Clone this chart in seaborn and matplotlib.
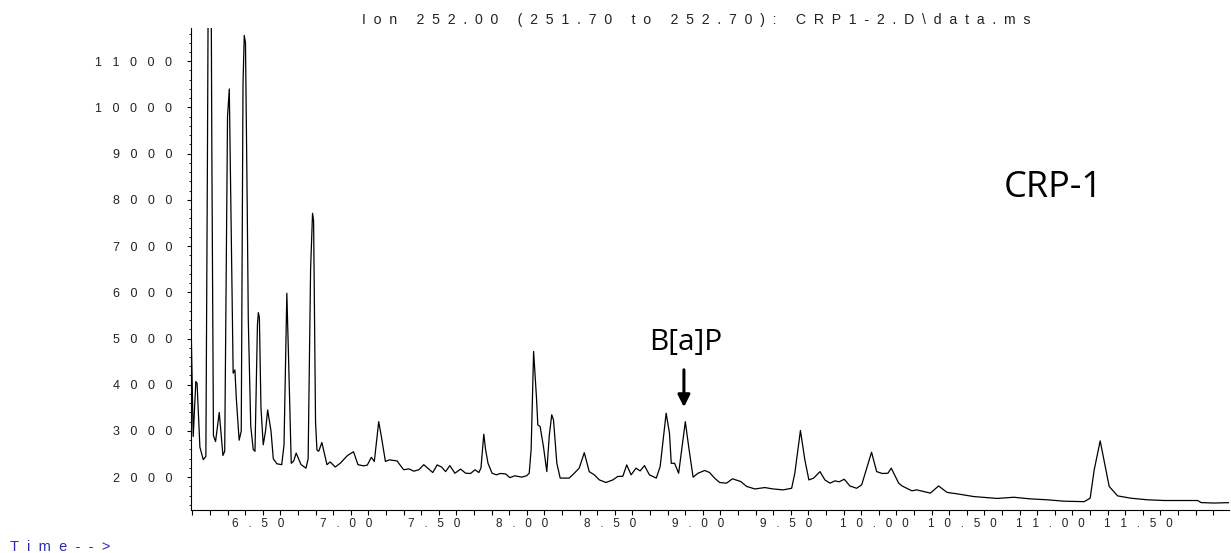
#!/usr/bin/env python3
"""
Cromatograma GC-MS (ion 252) da amostra CRP-1, com o pico de B[a]P marcado
"""

import numpy as np
import pandas as pd
import matplotlib
matplotlib.use('Agg')
import matplotlib.pyplot as plt
from matplotlib.ticker import MultipleLocator, FuncFormatter
import seaborn as sns

rt_min = [
    6.091, 6.105, 6.120, 6.127, 6.143, 6.162, 6.177, 6.186, 6.199, 6.211,
    6.220, 6.232, 6.253, 6.274, 6.284, 6.300, 6.310, 6.332, 6.342, 6.350,
    6.366, 6.378, 6.388, 6.395, 6.402, 6.412, 6.418, 6.432, 6.446, 6.456,
    6.470, 6.475, 6.481, 6.490, 6.503, 6.516, 6.528, 6.547, 6.560, 6.580,
    6.608, 6.621, 6.637, 6.646, 6.662, 6.676, 6.690, 6.718, 6.746, 6.758,
    6.772, 6.783, 6.789, 6.800, 6.808, 6.818, 6.836, 6.865, 6.883, 6.912,
    6.940, 6.982, 7.016, 7.041, 7.073, 7.094, 7.117, 7.134, 7.159, 7.174,
    7.197, 7.220, 7.264, 7.273, 7.301, 7.330, 7.358, 7.387, 7.415, 7.444,
    7.466, 7.491, 7.516, 7.539, 7.563, 7.592, 7.624, 7.653, 7.681, 7.706,
    7.728, 7.740, 7.756, 7.766, 7.780, 7.803, 7.828, 7.849, 7.880, 7.904,
    7.933, 7.971, 7.999, 8.014, 8.025, 8.039, 8.055, 8.063, 8.076, 8.095,
    8.114, 8.128, 8.142, 8.152, 8.171, 8.190, 8.241, 8.270, 8.298, 8.327,
    8.355, 8.384, 8.413, 8.450, 8.489, 8.517, 8.546, 8.568, 8.593, 8.621,
    8.644, 8.669, 8.697, 8.736, 8.758, 8.792, 8.811, 8.821, 8.840, 8.863,
    8.901, 8.920, 8.945, 8.973, 9.011, 9.039, 9.067, 9.096, 9.135, 9.169,
    9.216, 9.249, 9.296, 9.352, 9.400, 9.457, 9.505, 9.523, 9.555, 9.580,
    9.603, 9.630, 9.666, 9.694, 9.723, 9.751, 9.775, 9.804, 9.836, 9.874,
    9.903, 9.959, 9.988, 10.020, 10.052, 10.071, 10.090, 10.113, 10.132, 10.188,
    10.216, 10.255, 10.293, 10.340, 10.388, 10.444, 10.540, 10.673, 10.768, 10.862,
    10.958, 11.053, 11.167, 11.201, 11.224, 11.258, 11.290, 11.309, 11.357, 11.432,
    11.527, 11.622, 11.812, 11.831, 11.907, 11.999,
]
abundance = [
    5700, 2880, 4070, 4030, 2650, 2380, 2450, 9000, 20000, 9000,
    2900, 2770, 3400, 2470, 2560, 9800, 10400, 4250, 4320, 3700,
    2800, 3000, 10500, 11560, 11400, 7850, 5400, 3100, 2600, 2560,
    5300, 5560, 5450, 3500, 2700, 3000, 3455, 3000, 2400, 2290,
    2270, 2700, 5980, 4690, 2300, 2350, 2520, 2270, 2195, 2400,
    6500, 7710, 7550, 3200, 2590, 2560, 2750, 2270, 2330, 2220,
    2300, 2470, 2550, 2270, 2245, 2260, 2430, 2340, 3200, 2880,
    2340, 2375, 2350, 2300, 2160, 2180, 2130, 2160, 2270, 2175,
    2100, 2265, 2220, 2120, 2250, 2085, 2175, 2085, 2080, 2160,
    2100, 2200, 2930, 2600, 2300, 2085, 2050, 2080, 2070, 1990,
    2030, 2000, 2030, 2085, 2600, 4720, 3740, 3130, 3095, 2660,
    2120, 2900, 3350, 3240, 2300, 1980, 1980, 2085, 2195, 2530,
    2120, 2050, 1940, 1885, 1940, 2015, 2020, 2265, 2050, 2195,
    2135, 2250, 2050, 1980, 2230, 3385, 2950, 2300, 2300, 2085,
    3200, 2660, 2000, 2085, 2145, 2100, 1980, 1885, 1870, 1965,
    1905, 1800, 1745, 1775, 1745, 1725, 1760, 2085, 3010, 2375,
    1940, 1980, 2120, 1940, 1870, 1920, 1900, 1955, 1810, 1760,
    1835, 2540, 2120, 2080, 2085, 2195, 2050, 1870, 1810, 1705,
    1725, 1690, 1655, 1810, 1670, 1640, 1580, 1540, 1565, 1530,
    1510, 1480, 1470, 1545, 2160, 2785, 2160, 1800, 1595, 1545,
    1510, 1495, 1495, 1450, 1440, 1450,
]

# Rótulos dos eixos
xtick_values = [6.5, 7.0, 7.5, 8.0, 8.5, 9.0, 9.5, 10.0, 10.5, 11.0, 11.5]
ytick_values = [2000, 3000, 4000, 5000, 6000, 7000, 8000, 9000, 10000, 11000]

titulo = 'Ion 252.00 (251.70 to 252.70): CRP1-2.D\\data.ms'
amostra = 'CRP-1'
composto = 'B[a]P'
rt_composto = 8.893


def espacar(texto, n):
    # imita o texto espaçado do ChemStation
    return (' ' * n).join(texto)


sns.set_style('white')
plt.rcParams['font.family'] = ['Liberation Sans', 'DejaVu Sans']

df = pd.DataFrame({'rt': rt_min, 'abund': abundance})

fig = plt.figure(figsize=(12.31, 5.53), dpi=100)
ax = fig.add_axes([0.1548, 0.0778, 0.8436, 0.8716])

sns.lineplot(data=df, x='rt', y='abund', ax=ax, color='black', lw=0.9,
             estimator=None, sort=False)

ax.set_xlim(6.09, 11.99)
ax.set_ylim(1290, 11720)
sns.despine(ax=ax)
for lado in ['left', 'bottom']:
    ax.spines[lado].set_color('black')
    ax.spines[lado].set_linewidth(0.8)

ax.set_xticks(xtick_values)
ax.xaxis.set_minor_locator(MultipleLocator(0.1))
ax.set_yticks(ytick_values)
ax.yaxis.set_minor_locator(MultipleLocator(200))
# espaços no fim deslocam o rótulo um pouco para a esquerda, como no original
ax.xaxis.set_major_formatter(FuncFormatter(lambda v, p: espacar(f'{v:.2f}', 3) + '   '))
ax.yaxis.set_major_formatter(FuncFormatter(lambda v, p: espacar(f'{v:.0f}', 3)))

ax.tick_params(axis='x', which='both', direction='out', length=3.6, width=0.8,
               color='black', labelsize=8.5, pad=2, labelcolor='#222222')
ax.tick_params(axis='y', which='major', direction='out', length=2.7, width=0.8,
               color='black', labelsize=9, pad=10.5, labelcolor='#222222')
ax.tick_params(axis='y', which='minor', direction='out', length=1.5, width=0.6,
               color='black')
ax.tick_params(left=True, bottom=True, which='both')
ax.set_xlabel('')
ax.set_ylabel('')

# Título do ChemStation e rótulo do tempo
fig.text(362 / 1231, 1 - 20 / 553, espacar(titulo, 2), fontsize=10.2,
         ha='left', va='center', color='#222222')
fig.text(10 / 1231, 2 / 553, espacar('Time-->', 2), fontsize=10.5,
         ha='left', va='baseline', color='#2a2ab0')

# Anotações
ax.text(10.99, 8060, amostra, fontsize=26, family=['Open Sans', 'DejaVu Sans'],
        ha='center', va='baseline', color='black')
ax.text(8.905, 4750, composto, fontsize=21.5, family=['Open Sans', 'DejaVu Sans'],
        ha='center', va='baseline', color='black')
ax.annotate('', xy=(rt_composto, 3455), xytext=(rt_composto, 4383),
            arrowprops=dict(arrowstyle='-|>', color='black', lw=2.2,
                            mutation_scale=18))

plt.savefig('out.png', dpi=100)
